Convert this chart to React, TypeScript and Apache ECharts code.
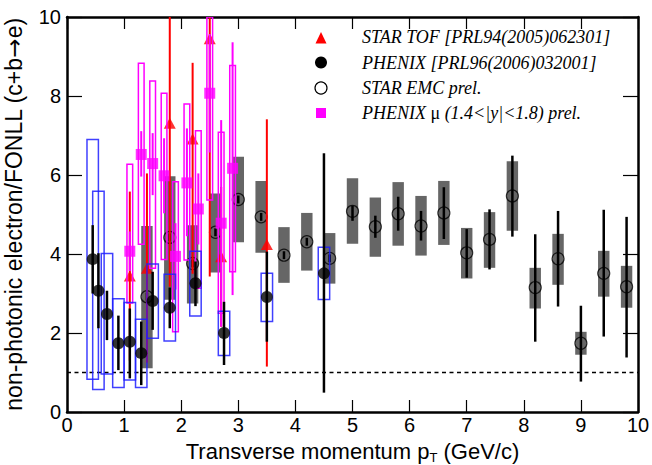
import React, { useEffect, useRef } from "react";
import * as echarts from "echarts";

// STAR TOF [PRL94(2005)062301]
const tofX = [1.1, 1.4, 1.8, 2.2, 2.5, 2.7, 3.5];
const tofY = [3.44, 3.64, 7.31, 6.91, 9.45, 3.93, 4.24];
const tofLow = [1.3, 1.25, 3.17, 3.5, 3.43, 2.16, 1.15];
const tofHigh = [5.58, 6.04, 11.45, 8.84, 15.5, 5.7, 7.41];

// PHENIX [PRL96(2006)032001]
const phxX = [0.45, 0.55, 0.7, 0.9, 1.1, 1.3, 1.5, 1.8, 2.25, 2.75, 3.5, 4.5];
const phxY = [3.87, 3.07, 2.48, 1.74, 1.78, 1.49, 2.81, 2.64, 3.26, 2.0, 2.91, 3.51];
const phxStatLow = [3.0, 2.12, 1.82, 1.06, 0.85, 0.68, 2.08, 2.12, 2.68, 1.19, 1.78, 0.49];
const phxStatHigh = [4.73, 4.02, 3.07, 2.44, 2.62, 2.29, 3.55, 3.15, 3.81, 2.79, 4.06, 6.55];
const phxSysLow = [0.83, 0.57, 0.96, 0.62, 0.81, 0.62, 1.87, 1.8, 2.43, 1.43, 2.29, 2.85];
const phxSysHigh = [6.9, 5.59, 4.01, 2.87, 2.77, 2.35, 3.75, 3.49, 4.07, 2.55, 3.51, 4.17];

// STAR EMC prel.
const emcX = [1.4, 1.8, 2.2, 2.6, 3.0, 3.4, 3.8, 4.2, 4.6, 5.0, 5.4, 5.8, 6.2, 6.6, 7.0, 7.4, 7.8, 8.2, 8.6, 9.0, 9.4, 9.8];
const emcY = [2.92, 4.42, 3.76, 4.55, 5.38, 4.94, 3.97, 4.31, 3.89, 5.08, 4.69, 5.02, 4.71, 5.04, 4.03, 4.37, 5.47, 3.15, 3.88, 1.74, 3.51, 3.17];
const emcStatLow = [2.82, 4.32, 3.66, 4.45, 5.28, 4.84, 3.87, 4.21, 3.79, 4.84, 4.41, 4.59, 4.34, 4.38, 3.4, 3.61, 4.44, 1.78, 2.67, 0.77, 1.91, 1.38];
const emcStatHigh = [3.02, 4.52, 3.86, 4.65, 5.48, 5.04, 4.07, 4.41, 3.99, 5.22, 4.97, 5.45, 5.09, 5.69, 4.63, 5.13, 6.49, 4.5, 5.09, 2.69, 5.12, 4.94];
const emcSysLow = [1.11, 2.84, 2.75, 3.53, 4.3, 4.03, 3.27, 3.58, 3.25, 4.26, 3.93, 4.21, 3.96, 4.23, 3.38, 3.65, 4.59, 2.62, 3.22, 1.45, 2.92, 2.64];
const emcSysHigh = [4.71, 5.97, 4.73, 5.53, 6.46, 5.85, 4.68, 5.04, 4.53, 5.92, 5.43, 5.82, 5.47, 5.85, 4.66, 5.06, 6.35, 3.65, 4.51, 2.03, 4.08, 3.7];

// PHENIX mu (1.4<|y|<1.8) prel.
const muX = [1.1, 1.3, 1.5, 1.7, 1.9, 2.1, 2.3, 2.5, 2.7, 2.9];
const muY = [4.07, 6.52, 6.29, 5.98, 3.94, 5.8, 5.14, 8.07, 4.78, 6.17];
const muStatLow = [3.57, 5.96, 5.49, 5.03, 3.1, 4.45, 4.24, 6.57, 2.16, 2.96];
const muStatHigh = [4.57, 7.11, 7.06, 6.93, 4.78, 7.18, 6.04, 9.57, 7.39, 9.36];
const muSysLow = [2.76, 4.25, 3.64, 3.86, 2.03, 3.85, 3.13, 5.37, 2.5, 3.55];
const muSysHigh = [6.27, 8.83, 8.38, 8.07, 5.83, 7.8, 7.12, 10.5, 7.08, 8.77];

const xTicks = [0, 10, 1];
const yTicks = [0, 10, 2];
const refLine = [[0, 1], [10, 1]];

const zip3 = (a: number[], b: number[], c: number[]) => a.map((v, i) => [v, b[i], c[i]]);
const zip2 = (a: number[], b: number[]) => a.map((v, i) => [v, b[i]]);

function clampY(y: number, cs: any) {
  return Math.max(cs.y, Math.min(cs.y + cs.height, y));
}

function boxSeries(data: number[][], hw: number, style: any, z: number) {
  return {
    type: "custom",
    z,
    clip: true,
    data,
    encode: { x: 0, y: [1, 2] },
    renderItem: (params: any, api: any) => {
      const cs = params.coordSys;
      const x = api.value(0);
      const lo = api.value(1);
      const hi = api.value(2);
      const p1 = api.coord([x - hw, hi]);
      const p2 = api.coord([x + hw, lo]);
      const y1 = clampY(p1[1], cs);
      const y2 = clampY(p2[1], cs);
      return {
        type: "rect",
        shape: { x: p1[0], y: y1, width: p2[0] - p1[0], height: y2 - y1 },
        style,
      };
    },
  };
}

function barSeries(data: number[][], color: string, width: number, z: number) {
  return {
    type: "custom",
    z,
    clip: true,
    data,
    encode: { x: 0, y: [1, 2] },
    renderItem: (params: any, api: any) => {
      const cs = params.coordSys;
      const x = api.value(0);
      const p1 = api.coord([x, api.value(1)]);
      const p2 = api.coord([x, api.value(2)]);
      return {
        type: "line",
        shape: { x1: p1[0], y1: clampY(p1[1], cs), x2: p2[0], y2: clampY(p2[1], cs) },
        style: { stroke: color, lineWidth: width },
      };
    },
  };
}

export default function App() {
  const ref = useRef<HTMLDivElement>(null);
  useEffect(() => {
    if (!ref.current) return;
    const chart = echarts.init(ref.current, null, { renderer: "svg" });
    const axisCommon = {
      type: "value",
      axisLine: { show: true, onZero: false, lineStyle: { color: "#000", width: 2.5 } },
      splitLine: { show: false },
    };
    const legendFont = { fontStyle: "italic", fontSize: 18, fontFamily: "Liberation Serif", fill: "#000", verticalAlign: "middle" };
    const option: any = {
      animation: false,
      backgroundColor: "#fff",
      grid: { left: 67, right: 14, top: 17, bottom: 53, containLabel: false, outerBoundsMode: "none" },
      xAxis: [
        {
          ...axisCommon,
          min: xTicks[0],
          max: xTicks[1],
          interval: xTicks[2],
          position: "bottom",
          axisTick: { inside: true, length: 12, lineStyle: { color: "#000", width: 1.2 } },
          axisLabel: { color: "#000", fontSize: 20, fontFamily: "Liberation Sans", margin: 3 },
          name: "Transverse momentum p{sub|T} (GeV/c)",
          nameLocation: "middle",
          nameGap: 24,
          nameTextStyle: {
            color: "#000",
            fontSize: 22,
            fontFamily: "Liberation Sans",
            lineHeight: 24,
            rich: { sub: { fontSize: 13, fontFamily: "Liberation Sans", verticalAlign: "bottom", lineHeight: 10, color: "#000" } },
          },
        },
        {
          ...axisCommon,
          min: xTicks[0],
          max: xTicks[1],
          interval: xTicks[2],
          position: "top",
          axisTick: { inside: true, length: 12, lineStyle: { color: "#000", width: 1.2 } },
          axisLabel: { show: false },
        },
      ],
      yAxis: [
        {
          ...axisCommon,
          min: yTicks[0],
          max: yTicks[1],
          interval: yTicks[2],
          position: "left",
          axisTick: { inside: true, length: 15, lineStyle: { color: "#000", width: 1.2 } },
          axisLabel: { color: "#000", fontSize: 20, fontFamily: "Liberation Sans", margin: 6 },
          name: "non-photonic electron/FONLL (c+b{a|\u2192}e)",
          nameLocation: "middle",
          nameGap: 42,
          nameTextStyle: {
            color: "#000",
            fontSize: 23,
            fontFamily: "Liberation Sans",
            rich: { a: { fontSize: 23, fontFamily: "DejaVu Sans", color: "#000" } },
          },
        },
        {
          ...axisCommon,
          min: yTicks[0],
          max: yTicks[1],
          interval: yTicks[2],
          position: "right",
          axisTick: { inside: true, length: 15, lineStyle: { color: "#000", width: 1.2 } },
          axisLabel: { show: false },
        },
      ],
      series: [
        {
          type: "line",
          data: refLine,
          symbol: "none",
          z: 1,
          lineStyle: { color: "#000", width: 1.6, type: [4, 3.5] },
        },
        boxSeries(zip3(emcX, emcSysLow, emcSysHigh), 0.1, { fill: "#666666" }, 2),
        barSeries(zip3(emcX, emcStatLow, emcStatHigh), "#000", 2.5, 3),
        {
          type: "scatter",
          z: 4,
          data: zip2(emcX, emcY),
          symbol: "circle",
          symbolSize: 12,
          itemStyle: { color: "rgba(0,0,0,0)", borderColor: "#000", borderWidth: 1.2 },
        },
        barSeries(zip3(tofX, tofLow, tofHigh), "#ff0000", 2, 5),
        {
          type: "scatter",
          z: 6,
          data: zip2(tofX, tofY),
          symbol: "triangle",
          symbolSize: [12, 11],
          itemStyle: { color: "#ff0000" },
        },
        boxSeries(zip3(muX, muSysLow, muSysHigh), 0.05, { fill: "none", stroke: "#ff00ff", lineWidth: 1.5 }, 7),
        barSeries(zip3(muX, muStatLow, muStatHigh), "#ff00ff", 2, 8),
        {
          type: "scatter",
          z: 9,
          data: zip2(muX, muY),
          symbol: "rect",
          symbolSize: 11,
          itemStyle: { color: "#ff00ff" },
        },
        boxSeries(zip3(phxX, phxSysLow, phxSysHigh), 0.1, { fill: "none", stroke: "rgba(30,30,255,0.85)", lineWidth: 1.5 }, 10),
        barSeries(zip3(phxX, phxStatLow, phxStatHigh), "#000", 2.5, 11),
        {
          type: "scatter",
          z: 12,
          data: zip2(phxX, phxY),
          symbol: "circle",
          symbolSize: 12,
          itemStyle: { color: "#000" },
        },
      ],
      graphic: [
        { type: "polygon", shape: { points: [[321, 32], [315.5, 43.5], [326.5, 43.5]] }, style: { fill: "#ff0000" } },
        { type: "circle", shape: { cx: 321, cy: 62.5, r: 6 }, style: { fill: "#000" } },
        { type: "circle", shape: { cx: 321, cy: 88, r: 6 }, style: { fill: "none", stroke: "#000", lineWidth: 1.2 } },
        { type: "rect", shape: { x: 316, y: 108, width: 10, height: 10 }, style: { fill: "#ff00ff" } },
        { type: "text", x: 362, y: 37, style: { ...legendFont, text: "STAR TOF [PRL94(2005)062301]" } },
        { type: "text", x: 362, y: 62.5, style: { ...legendFont, text: "PHENIX [PRL96(2006)032001]" } },
        { type: "text", x: 362, y: 88, style: { ...legendFont, text: "STAR EMC prel." } },
        {
          type: "text",
          x: 362,
          y: 113,
          style: {
            ...legendFont,
            text: "PHENIX {m|\u03bc} (1.4<|y|<1.8) prel.",
            rich: { m: { fontStyle: "normal", fontSize: 18, fontFamily: "Liberation Serif", fill: "#000" } },
          },
        },
      ],
    };
    chart.setOption(option);
    return () => chart.dispose();
  }, []);
  return <div ref={ref} style={{ position: "fixed", left: 0, top: 0, width: 652, height: 465 }} />;
}
